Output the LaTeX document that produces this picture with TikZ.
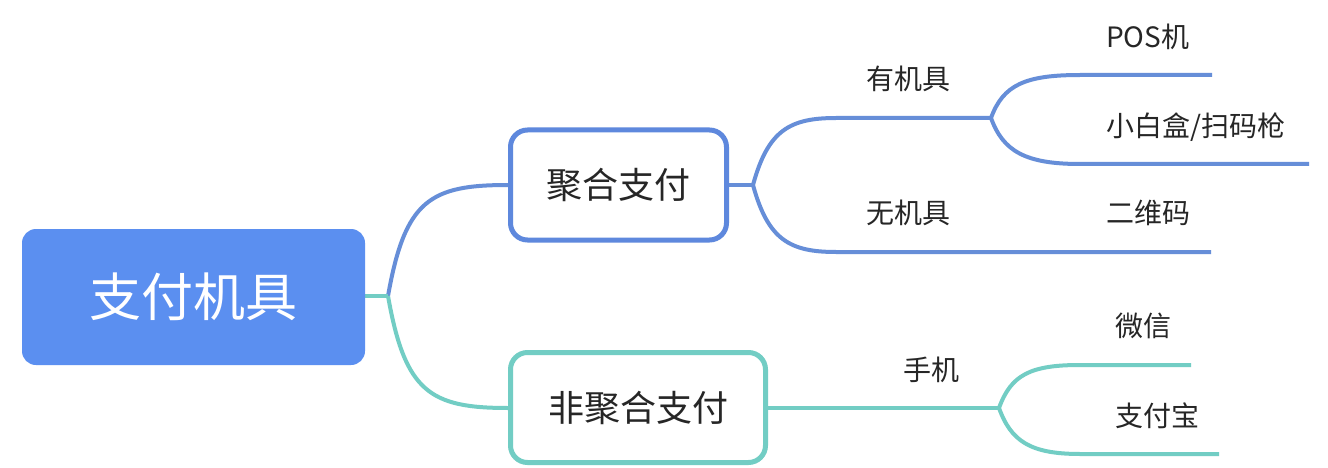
\documentclass[tikz,border=0pt]{standalone}
\usepackage{fontspec}
\setmainfont{Noto Sans CJK SC}
\definecolor{rootblue}{HTML}{5B8FF0}
\definecolor{lblue}{HTML}{668ED8}
\definecolor{bblue}{HTML}{5E88DD}
\definecolor{lteal}{HTML}{72CDC4}
\definecolor{txt}{HTML}{262626}
\begin{document}
\begin{tikzpicture}[x=1pt,y=-1pt,
  rootbox/.style={fill=rootblue, rounded corners=14pt, minimum width=343pt, minimum height=136pt, inner sep=0pt, text=white, font=\fontsize{52}{60}\selectfont},
  subbox/.style={line width=5pt, fill=white, rounded corners=17pt, minimum height=110pt, inner sep=0pt, text=txt, font=\fontsize{36}{42}\selectfont},
  lbl/.style={text=txt, font=\fontsize{28}{32}\selectfont, inner sep=0pt},
  bl/.style={draw=lblue, line width=4pt},
  tl/.style={draw=lteal, line width=4pt}]
\useasboundingbox[fill=white] (0,0) rectangle (1328,468);

% coordinates
\coordinate (j0) at (388,296);
\coordinate (j1) at (753,185);
\coordinate (h1s) at (836,118);
\coordinate (j11) at (991,118);
\coordinate (p1s) at (1080,75);
\coordinate (p1e) at (1212,75);
\coordinate (p2s) at (1080,164);
\coordinate (p2e) at (1309,164);
\coordinate (w1s) at (836,252);
\coordinate (w1e) at (1211,252);
\coordinate (j2) at (999,408);
\coordinate (m1s) at (1080,365);
\coordinate (m1e) at (1191,365);
\coordinate (m2s) at (1080,454);
\coordinate (m2e) at (1219,454);

% connectors (drawn under the boxes)
\draw[bl] (j0) .. controls (405,200) and (430,185) .. (508,185);
\draw[tl] (j0) .. controls (405,392) and (430,408) .. (508,408);
\draw[tl] (365,296) -- (j0);

\draw[bl] (728,185) -- (j1);
\draw[bl] (j1) .. controls (768,130) and (790,118) .. (h1s) -- (j11);
\draw[bl] (j1) .. controls (768,240) and (790,252) .. (w1s) -- (w1e);
\draw[bl] (j11) .. controls (1003,85) and (1025,75) .. (p1s) -- (p1e);
\draw[bl] (j11) .. controls (1003,151) and (1025,164) .. (p2s) -- (p2e);

\draw[tl] (766,408) -- (j2);
\draw[tl] (j2) .. controls (1011,375) and (1030,365) .. (m1s) -- (m1e);
\draw[tl] (j2) .. controls (1011,441) and (1030,454) .. (m2s) -- (m2e);

% nodes
\node[rootbox] (root) at (193.5,297) {支付机具};
\node[subbox, draw=bblue, minimum width=216pt] (agg) at (618.5,185) {聚合支付};
\node[subbox, draw=lteal, minimum width=255pt] (nagg) at (638,407.5) {非聚合支付};

\node[lbl] (youjj) at (908,79) {有机具};
\node[lbl] (wujj) at (908,213) {无机具};
\node[lbl, anchor=west] (pos) at (1106,37) {POS机};
\node[lbl, anchor=west] (xbh) at (1106,127) {小白盒/扫码枪};
\node[lbl, anchor=west] (ewm) at (1106,213) {二维码};
\node[lbl] (sj) at (931,370) {手机};
\node[lbl, anchor=west] (wx) at (1115,326) {微信};
\node[lbl, anchor=west] (zfb) at (1115,416) {支付宝};
\end{tikzpicture}
\end{document}
